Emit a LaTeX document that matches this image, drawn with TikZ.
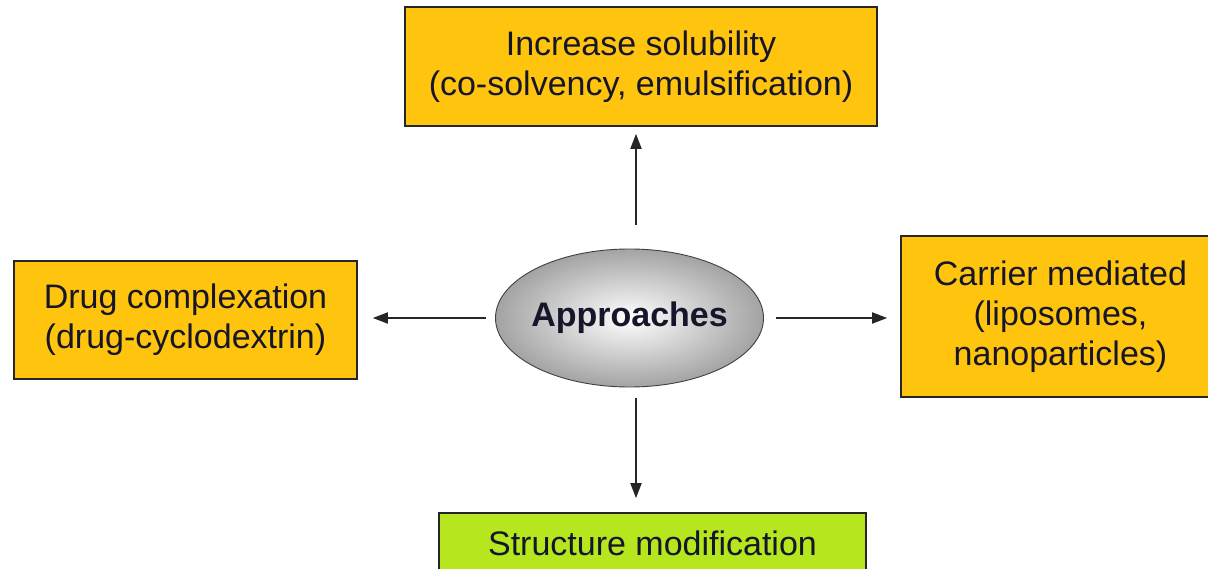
\documentclass[tikz,border=0pt]{standalone}
\usepackage{fontspec}
\setmainfont{Liberation Sans}
\usetikzlibrary{shapes.geometric,arrows.meta}
\definecolor{boxorange}{HTML}{FFC40E}
\definecolor{boxgreen}{HTML}{B6E61E}
\definecolor{txtcol}{HTML}{16162B}
\begin{document}
\begin{tikzpicture}[x=1pt,y=-1pt,
  box/.style={draw=black!85,line width=1.6pt,fill=boxorange,align=center,inner sep=0pt,
    font=\fontsize{34}{40}\selectfont,text=txtcol},
  arr/.style={-{Triangle[length=15pt,width=11pt]},line width=1.8pt,draw=black!85}]
\useasboundingbox (0,0) rectangle (1208,569);
\clip (0,0) rectangle (1208,569);
\node[box,minimum width=472pt,minimum height=119pt] (top) at (641,66.5)
  {Increase solubility\\(co-solvency, emulsification)};
\node[box,minimum width=343pt,minimum height=118pt] (left) at (185.5,320)
  {Drug complexation\\(drug-cyclodextrin)};
\node[box,minimum width=319pt,minimum height=161pt] (right) at (1060.5,316.5)
  {Carrier mediated\\(liposomes,\\nanoparticles)};
\node[box,fill=boxgreen,minimum width=427pt,minimum height=60pt] (bot) at (652.5,543)
  {Structure modification};
\node[ellipse,draw=black!75,line width=0.9pt,inner color=white,outer color=black!36,
  minimum width=268pt,minimum height=138pt,inner sep=0pt,
  label={[text=txtcol,font=\fontsize{34}{40}\selectfont\bfseries]center:Approaches}] (app) at (629.5,318) {};
\draw[arr] ([xshift=6.5pt,yshift=24pt]app.north) -- ([xshift=-5pt,yshift=-7pt]top.south);
\draw[arr] ([xshift=-9pt]app.west) -- ([xshift=15pt]left.east |- app.west);
\draw[arr] ([xshift=12pt]app.east) -- ([xshift=-13pt]right.west |- app.east);
\draw[arr] ([xshift=6.5pt,yshift=-11pt]app.south) -- ([xshift=-16.5pt,yshift=14pt]bot.north);
\end{tikzpicture}
\end{document}
